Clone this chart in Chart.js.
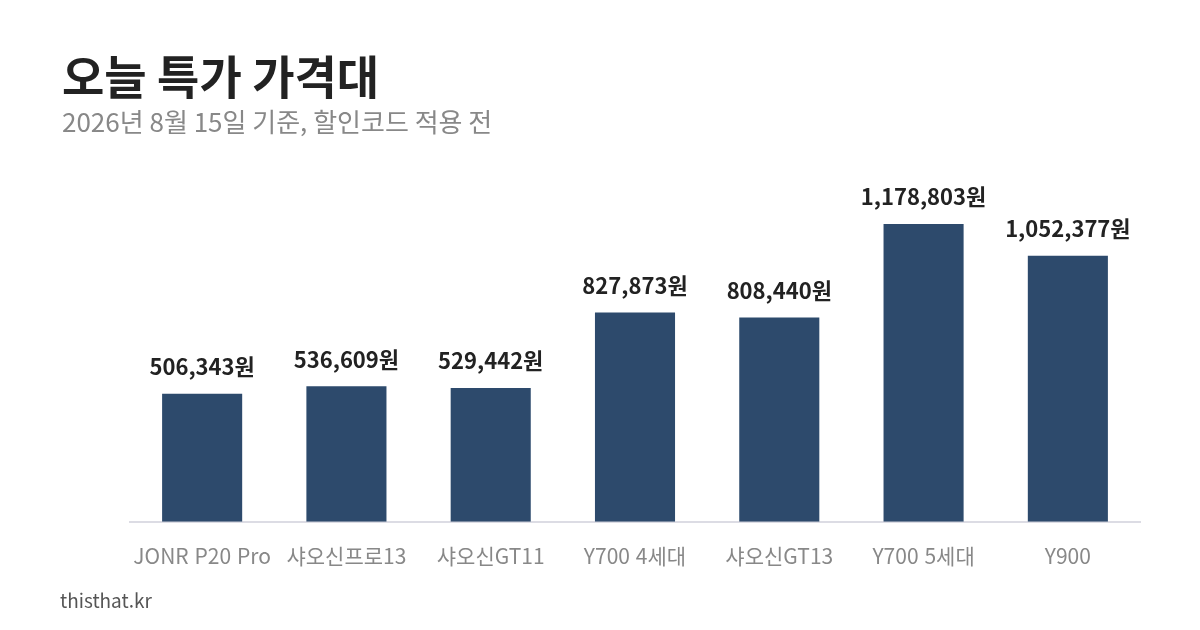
<!DOCTYPE html>
<html lang="ko">
<head>
<meta charset="utf-8">
<title>오늘 특가 가격대</title>
<script src="https://cdn.jsdelivr.net/npm/chart.js@4.4.1/dist/chart.umd.min.js"></script>
<style>
    html, body { margin: 0; padding: 0; background: #ffffff; }
    #wrap { position: relative; width: 1200px; height: 630px; }
    #footer {
        position: absolute; left: 60px; top: 586px;
        font-family: 'Noto Sans CJK KR', 'Noto Sans', sans-serif;
        font-size: 19px; color: #555555;
    }
</style>
</head>
<body>
<div id="wrap">
    <canvas id="priceChart" width="1200" height="630"></canvas>
    <div id="footer">thisthat.kr</div>
</div>
<script>
// Chart data
const models = ['JONR P20 Pro', '샤오신프로13', '샤오신GT11', 'Y700 4세대', '샤오신GT13', 'Y700 5세대', 'Y900'];
const prices = [506343, 536609, 529442, 827873, 808440, 1178803, 1052377];

const FONT = "'Noto Sans CJK KR', 'Noto Sans', sans-serif";
Chart.defaults.font.family = FONT;

// value labels above each bar
const valueLabels = {
    id: 'valueLabels',
    afterDatasetsDraw(chart) {
        const ctx = chart.ctx;
        const meta = chart.getDatasetMeta(0);
        ctx.save();
        ctx.font = 'bold 22px ' + FONT;
        ctx.fillStyle = '#222222';
        ctx.textAlign = 'center';
        ctx.textBaseline = 'bottom';
        meta.data.forEach(function(bar, i) {
            ctx.fillText(prices[i].toLocaleString('en-US') + '원', bar.x, bar.y - 16);
        });
        ctx.restore();
    }
};

const ctx = document.getElementById('priceChart').getContext('2d');
const priceChart = new Chart(ctx, {
    type: 'bar',
    data: {
        labels: models,
        datasets: [{
            data: prices,
            backgroundColor: '#2d4a6c',
            categoryPercentage: 1,
            barPercentage: 0.555
        }]
    },
    options: {
        responsive: false,
        animation: false,
        layout: { padding: { left: 62, right: 60, top: 49, bottom: 47 } },
        plugins: {
            legend: { display: false },
            tooltip: { enabled: false },
            title: {
                display: true,
                text: '오늘 특가 가격대',
                align: 'start',
                color: '#222222',
                font: { size: 46, weight: 'bold' },
                padding: { top: 0, bottom: 2 }
            },
            subtitle: {
                display: true,
                text: '2026년 8월 15일 기준, 할인코드 적용 전',
                align: 'start',
                color: '#888888',
                font: { size: 26 },
                padding: { top: 0, bottom: 42 }
            }
        },
        scales: {
            x: {
                grid: { display: false },
                border: { color: '#dcdce4', width: 2 },
                ticks: { color: '#888888', font: { size: 21 }, padding: 14, maxRotation: 0 }
            },
            y: {
                beginAtZero: true,
                max: 1355000,
                grid: { display: false },
                border: { display: false },
                ticks: { display: false },
                afterFit: function(axis) { axis.width = 68; }
            }
        }
    },
    plugins: [valueLabels]
});
</script>
</body>
</html>
